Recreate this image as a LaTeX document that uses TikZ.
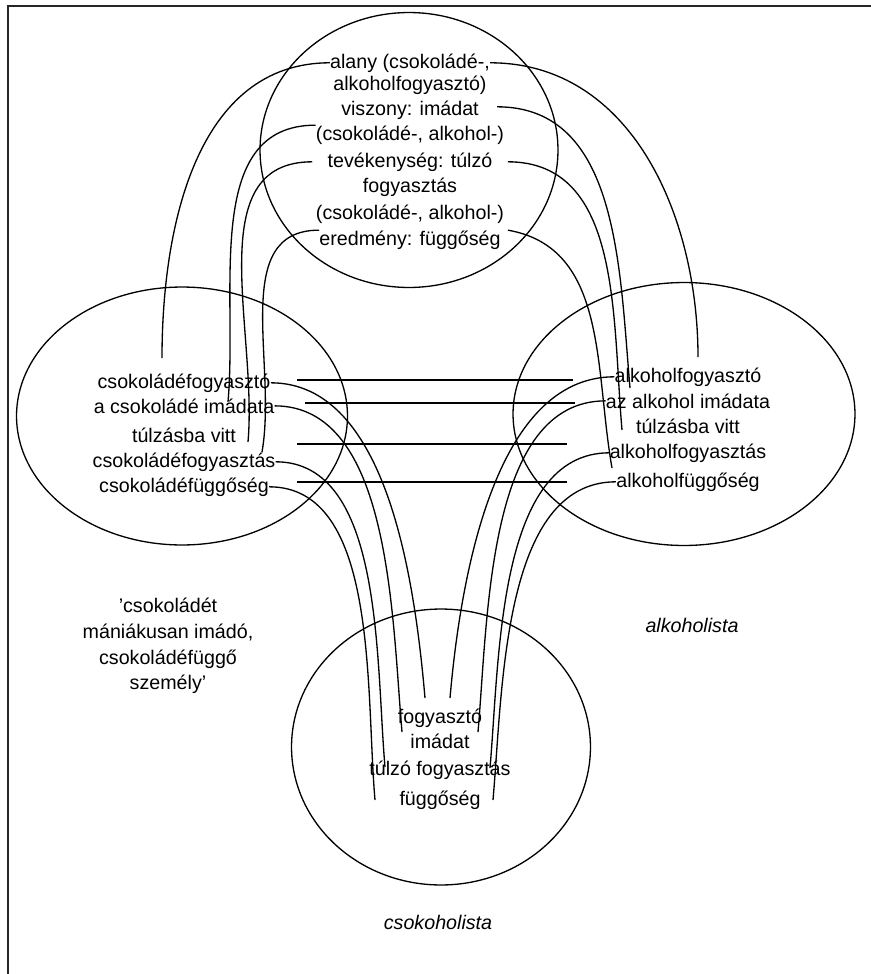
\documentclass[tikz,border=0pt]{standalone}
\usepackage{fontspec}
\setmainfont{Liberation Sans}
\usetikzlibrary{shapes.geometric, positioning}
\newcommand{\diagfont}{\fontsize{11.2pt}{14.6pt}\selectfont}

\begin{document}
\begin{tikzpicture}[
    x=0.02cm, y=-0.02cm,
    sphere/.style={ellipse, draw=black, line width=0.75pt, inner sep=0pt},
    entry/.style={anchor=base, inner sep=0pt, font=\diagfont},
    gloss/.style={align=center, inner sep=0pt, font=\diagfont},
    tie/.style={draw, line width=0.75pt},
    rim/.style={draw, line width=1pt, black!85}
]
\useasboundingbox (0,0) rectangle (871,974);

% ─── Frame (top and left edge only) ─────────────────────────────────
\draw[rim] (871,6) -- (8,6) -- (8,974);

% ─── The four spaces ────────────────────────────────────────────────
\node[sphere, minimum width=5.96cm, minimum height=5.5cm] (generic) at (409,150) {};
\node[sphere, minimum width=6.62cm, minimum height=5.16cm] (choco) at (182,416) {};
\node[sphere, minimum width=6.84cm, minimum height=5.26cm] (alco) at (684,414) {};
\node[sphere, minimum width=5.98cm, minimum height=5.52cm] (blend) at (441,747) {};

% ─── Texts ──────────────────────────────────────────────────────────
\foreach \y/\i/\t in {68/1/{alany (csokoládé-,}, 90/2/alkoholfogyasztó), 115/3/viszony: imádat,
    140/4/{(csokoládé-, alkohol-)}, 167/5/tevékenység: túlzó, 192/6/fogyasztás,
    219/7/{(csokoládé-, alkohol-)}, 245/8/eredmény: függőség} {
    \node[entry] (g\i) at (410,\y) {\t};
}
\foreach \y/\i/\t in {388/1/csokoládéfogyasztó, 413/2/a csokoládé imádata, 442/3/túlzásba vitt,
    467/4/csokoládéfogyasztás, 492/5/csokoládéfüggőség} {
    \node[entry] (c\i) at (184,\y) {\t};
}
\foreach \y/\i/\t in {382/1/alkoholfogyasztó, 408/2/az alkohol imádata, 433/3/túlzásba vitt,
    458/4/alkoholfogyasztás, 487/5/alkoholfüggőség} {
    \node[entry] (a\i) at (688,\y) {\t};
}
\foreach \y/\i/\t in {723/1/fogyasztó, 748/2/imádat, 775/3/túlzó fogyasztás, 805/4/függőség} {
    \node[entry] (b\i) at (440,\y) {\t};
}

\node[gloss] (chocnote) at (168,646) {'csokoládét\\mániákusan imádó,\\csokoládéfüggő\\személy'};
\node[gloss, font=\diagfont\itshape] (alcname) at (692,625) {alkoholista};
\node[gloss, font=\diagfont\itshape] (blendname) at (438,922) {csokoholista};

% ─── Free ends of the connectors ────────────────────────────────────
\foreach \n/\x/\y in {ga1/162/358, ga2/228/402, ga3/248/442, ga4/262/452,
    gb1/698/357, gb2/630/388, gb3/622/430, gb4/612/468,
    bc1/425/698, bc2/402/732, bc3/385/767, bc4/375/800,
    ba1/450/698, ba2/478/732, ba3/490/768, ba4/493/800,
    h1a/297/380, h1b/573/380, h2a/305/403, h2b/575/403,
    h3a/297/444, h3b/567/444, h4a/297/482, h4b/567/482} {
    \coordinate (\n) at (\x,\y);
}

% Generic space -> chocolate space
\draw[tie] (g1.west) to[out=180, in=90] (ga1);
\draw[tie] (g4.north west) to[out=180, in=85] (ga2);
\draw[tie] ([shift={(-15,0)}]g5.west) to[out=180, in=85] (ga3);
\draw[tie] (g8.north west) to[out=180, in=80] (ga4);

% Generic space -> alcohol space
\draw[tie] (g1.east) to[out=0, in=90] (gb1);
\draw[tie] ([shift={(18,-3)}]g3.east) to[out=0, in=95] (gb2);
\draw[tie] ([shift={(15,0)}]g5.east) to[out=0, in=95] (gb3);
\draw[tie] ([shift={(7,0)}]g8.north east) to[out=-10, in=100] (gb4);

% Cross-space mapping
\draw[tie] (h1a) -- (h1b);
\draw[tie] (h2a) -- (h2b);
\draw[tie] (h3a) -- (h3b);
\draw[tie] (h4a) -- (h4b);

% Input spaces -> blend
\draw[tie] (c1.east) to[out=0, in=95, looseness=0.85] (bc1);
\draw[tie] (c2.east) to[out=0, in=95, looseness=0.85] (bc2);
\draw[tie] (c4.east) to[out=0, in=95, looseness=0.85] (bc3);
\draw[tie] (c5.east) to[out=0, in=95, looseness=0.85] (bc4);
\draw[tie] (a1.west) to[out=180, in=85, looseness=0.85] (ba1);
\draw[tie] (a2.west) to[out=180, in=85, looseness=0.85] (ba2);
\draw[tie] (a4.west) to[out=180, in=85, looseness=0.85] (ba3);
\draw[tie] (a5.west) to[out=180, in=85, looseness=0.85] (ba4);

\end{tikzpicture}
\end{document}
